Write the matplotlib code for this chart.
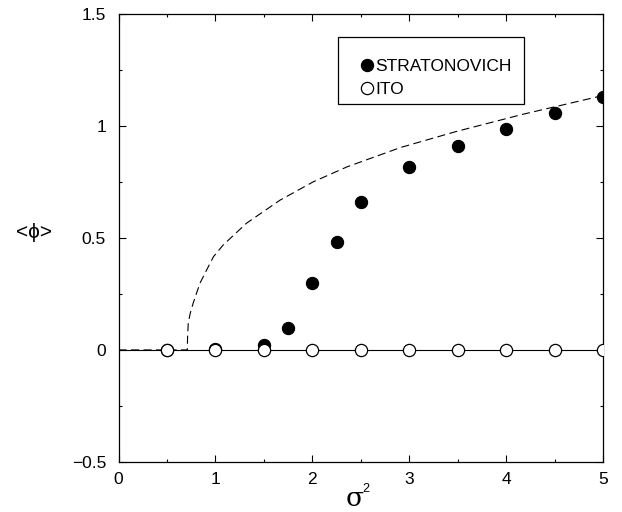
import matplotlib
matplotlib.use("Agg")
import matplotlib.pyplot as plt
from matplotlib.patches import Rectangle
from matplotlib.ticker import MultipleLocator

plt.rcParams['font.family'] = ['Liberation Sans', 'DejaVu Sans']
plt.rcParams['lines.scale_dashes'] = False

# data
strat_x = [0.5, 1.0, 1.5, 1.75, 2.0, 2.25, 2.5, 3.0, 3.5, 4.0, 4.5, 5.0]
strat_y = [0.0, 0.005, 0.02, 0.10, 0.30, 0.48, 0.66, 0.815, 0.91, 0.985, 1.058, 1.127]
ito_x = [0.5, 1.0, 1.5, 2.0, 2.5, 3.0, 3.5, 4.0, 4.5, 5.0]
ito_y = [0.0, 0.0, 0.0, 0.0, 0.0, 0.0, 0.0, 0.0, 0.0, 0.0]
theory_x = [0.0, 0.71, 0.713, 0.72, 0.74, 0.77, 0.84, 0.91, 0.98, 1.08, 1.32, 1.67,
            2.01, 2.36, 2.70, 2.91, 3.49, 4.18, 5.0]
theory_y = [0.0, 0.0, 0.06, 0.12, 0.163, 0.208, 0.297, 0.357, 0.416, 0.468, 0.565, 0.669,
            0.75, 0.817, 0.870, 0.903, 0.975, 1.052, 1.135]
x_ticks = [0, 1, 2, 3, 4, 5]
x_ticklabels = ['0', '1', '2', '3', '4', '5']
y_ticks = [-0.5, 0, 0.5, 1, 1.5]
y_ticklabels = ['\u22120.5', '0', '0.5', '1', '1.5']

fig = plt.figure(figsize=(6.22, 5.12), dpi=100)
ax = fig.add_axes([118.5 / 622, 1 - 462 / 512, (603 - 118.5) / 622, (462 - 13.7) / 512])

ax.axhline(0, color='black', lw=0.8, zorder=1)
ax.plot(theory_x, theory_y, color='black', lw=0.8, linestyle=(0, (5.8, 3.2)), zorder=2)
ax.plot(strat_x, strat_y, linestyle='none', marker='o', ms=8.8, mfc='black', mec='black',
        mew=0.8, zorder=3, label='STRATONOVICH')
ax.plot(ito_x, ito_y, linestyle='none', marker='o', ms=8.8, mfc='white', mec='black',
        mew=0.9, zorder=4, label='ITO')

ax.set_xlim(0, 5)
ax.set_ylim(-0.5, 1.5)
ax.set_xticks(x_ticks)
ax.set_xticklabels(x_ticklabels)
ax.set_yticks(y_ticks)
ax.set_yticklabels(y_ticklabels)
ax.xaxis.set_minor_locator(MultipleLocator(0.5))
ax.yaxis.set_minor_locator(MultipleLocator(0.25))
ax.tick_params(which='both', direction='in', top=True, right=True, width=0.8, labelsize=12.5)
ax.tick_params(which='major', length=4.7)
ax.tick_params(which='minor', length=2.4)
ax.tick_params(axis='x', which='major', pad=7)
ax.tick_params(axis='y', which='major', pad=9)
for s in ax.spines.values():
    s.set_linewidth(0.9)

# y label
ax.set_ylabel('<\u03d5>', rotation=0, fontsize=15, ha='center', va='center')
ax.yaxis.set_label_coords(-0.174, 0.513)
# x label sigma^2
ax.text(0.487, -0.099, '\u03c3', transform=ax.transAxes, ha='center', va='baseline',
        fontsize=19, family=['DejaVu Serif'])
ax.text(0.503, -0.068, '2', transform=ax.transAxes, ha='left', va='baseline', fontsize=9)

# legend box
ax.add_patch(Rectangle((0.4537, 0.7986), 0.837 - 0.4537, 0.9474 - 0.7986,
                       transform=ax.transAxes, fill=True, facecolor='white',
                       edgecolor='black', lw=0.9, zorder=5))
leg = ax.legend(loc='center left', bbox_to_anchor=(0.4943, 0.8566), frameon=False,
                handlelength=1.0, handletextpad=0.0, borderpad=0, borderaxespad=0,
                labelspacing=0.42, fontsize=12.5, markerscale=1.0)
leg.set_zorder(6)

fig.savefig('out.png', dpi=100)
